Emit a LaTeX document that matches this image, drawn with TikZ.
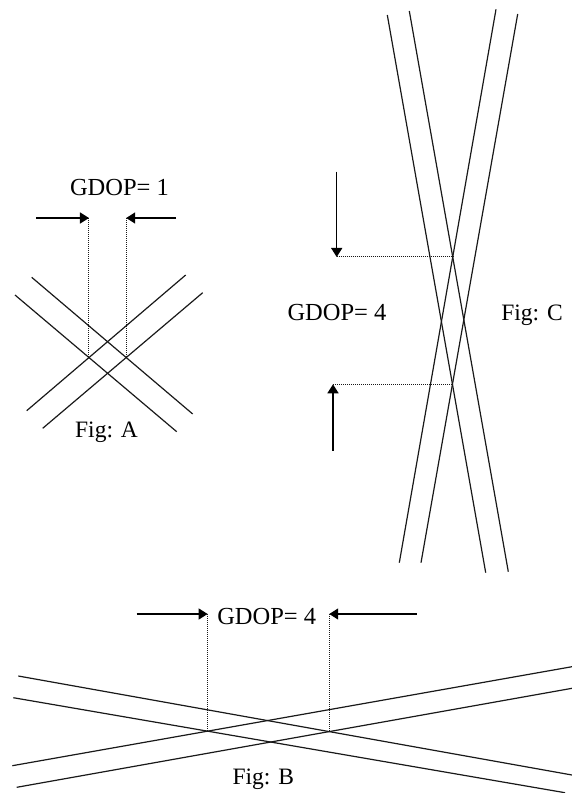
\documentclass[tikz,border=0pt]{standalone}
\usepackage{fontspec}
\setmainfont{Liberation Serif}
\usetikzlibrary{arrows.meta}
\begin{document}
\begin{tikzpicture}[x=1bp,y=-1bp,
  line/.style={line width=1.2bp, black!90},
  guide/.style={line width=1bp, black!90, dash pattern=on 1.2bp off 0.8bp},
  pointer/.style={line width=1.5bp, -{Triangle[length=9bp,width=11bp]}},
  lbl/.style={font=\fontsize{24.5bp}{28bp}\selectfont, inner sep=0pt, anchor=base},
  figlbl/.style={font=\fontsize{23.5bp}{28bp}\selectfont, inner sep=0pt, anchor=base}]
\useasboundingbox (0,0) rectangle (572,793);
% ---------- Fig A ----------
\coordinate (a1s) at (31.7,277.3); \coordinate (a1e) at (192.7,414);
\coordinate (a2s) at (15,295);     \coordinate (a2e) at (176.7,431.7);
\coordinate (a3s) at (26.7,410.7); \coordinate (a3e) at (185.7,275);
\coordinate (a4s) at (42.7,428.3); \coordinate (a4e) at (202.7,292.7);
\foreach \i in {1,...,4} \draw[line] (a\i s) -- (a\i e);
\coordinate (aL) at (intersection of a2s--a2e and a3s--a3e);
\coordinate (aR) at (intersection of a1s--a1e and a4s--a4e);
\coordinate (aTop) at (0,218);
\coordinate (aLt) at (aL |- aTop);
\coordinate (aRt) at (aR |- aTop);
\draw[guide] (aLt) -- (aL);
\draw[guide] (aRt) -- (aR);
\coordinate (aLa) at (36,218);
\coordinate (aRa) at (176,218);
\draw[pointer] (aLa) -- (aLt);
\draw[pointer] (aRa) -- (aRt);
\node[lbl] (gA) at (119.5,195) {GDOP= 1};
\node[figlbl] (fA) at (106.5,437) {Fig: A};
% ---------- Fig C ----------
\coordinate (c1s) at (387.3,15);  \coordinate (c1e) at (485.7,572.7);
\coordinate (c2s) at (409.3,11);  \coordinate (c2e) at (508.3,571.7);
\coordinate (c3s) at (496,9.3);   \coordinate (c3e) at (399.3,562.7);
\coordinate (c4s) at (517.7,14);  \coordinate (c4e) at (421,562.7);
\foreach \i in {1,...,4} \draw[line] (c\i s) -- (c\i e);
\coordinate (cT) at (intersection of c2s--c2e and c3s--c3e);
\coordinate (cB) at (intersection of c1s--c1e and c4s--c4e);
\coordinate (cTa) at (336.7,171.7);
\coordinate (cBa) at (333,450.7);
\coordinate (cTl) at (cTa |- cT);
\coordinate (cBl) at (cBa |- cB);
\draw[guide] (cTl) -- (cT);
\draw[guide] (cBl) -- (cB);
\draw[pointer] (cTa) -- (cTl);
\draw[pointer] (cBa) -- (cBl);
\node[lbl] (gC) at (337,320) {GDOP= 4};
\node[figlbl] (fC) at (532,320) {Fig: C};
% ---------- Fig B ----------
\coordinate (b1s) at (18.3,676);   \coordinate (b1e) at (572,775);
\coordinate (b2s) at (13.3,697.7); \coordinate (b2e) at (565,792.7);
\coordinate (b3s) at (12.3,765.7); \coordinate (b3e) at (572,666.7);
\coordinate (b4s) at (16.7,787.3); \coordinate (b4e) at (572,688.3);
\foreach \i in {1,...,4} \draw[line] (b\i s) -- (b\i e);
\coordinate (bL) at (intersection of b2s--b2e and b3s--b3e);
\coordinate (bR) at (intersection of b1s--b1e and b4s--b4e);
\coordinate (bTop) at (0,614);
\coordinate (bLt) at (bL |- bTop);
\coordinate (bRt) at (bR |- bTop);
\draw[guide] (bLt) -- (bL);
\draw[guide] (bRt) -- (bR);
\coordinate (bLa) at (136.7,614);
\coordinate (bRa) at (416.7,614);
\draw[pointer] (bLa) -- (bLt);
\draw[pointer] (bRa) -- (bRt);
\node[lbl] (gB) at (266.7,624) {GDOP= 4};
\node[figlbl] (fB) at (263.3,784) {Fig: B};
\end{tikzpicture}
\end{document}
